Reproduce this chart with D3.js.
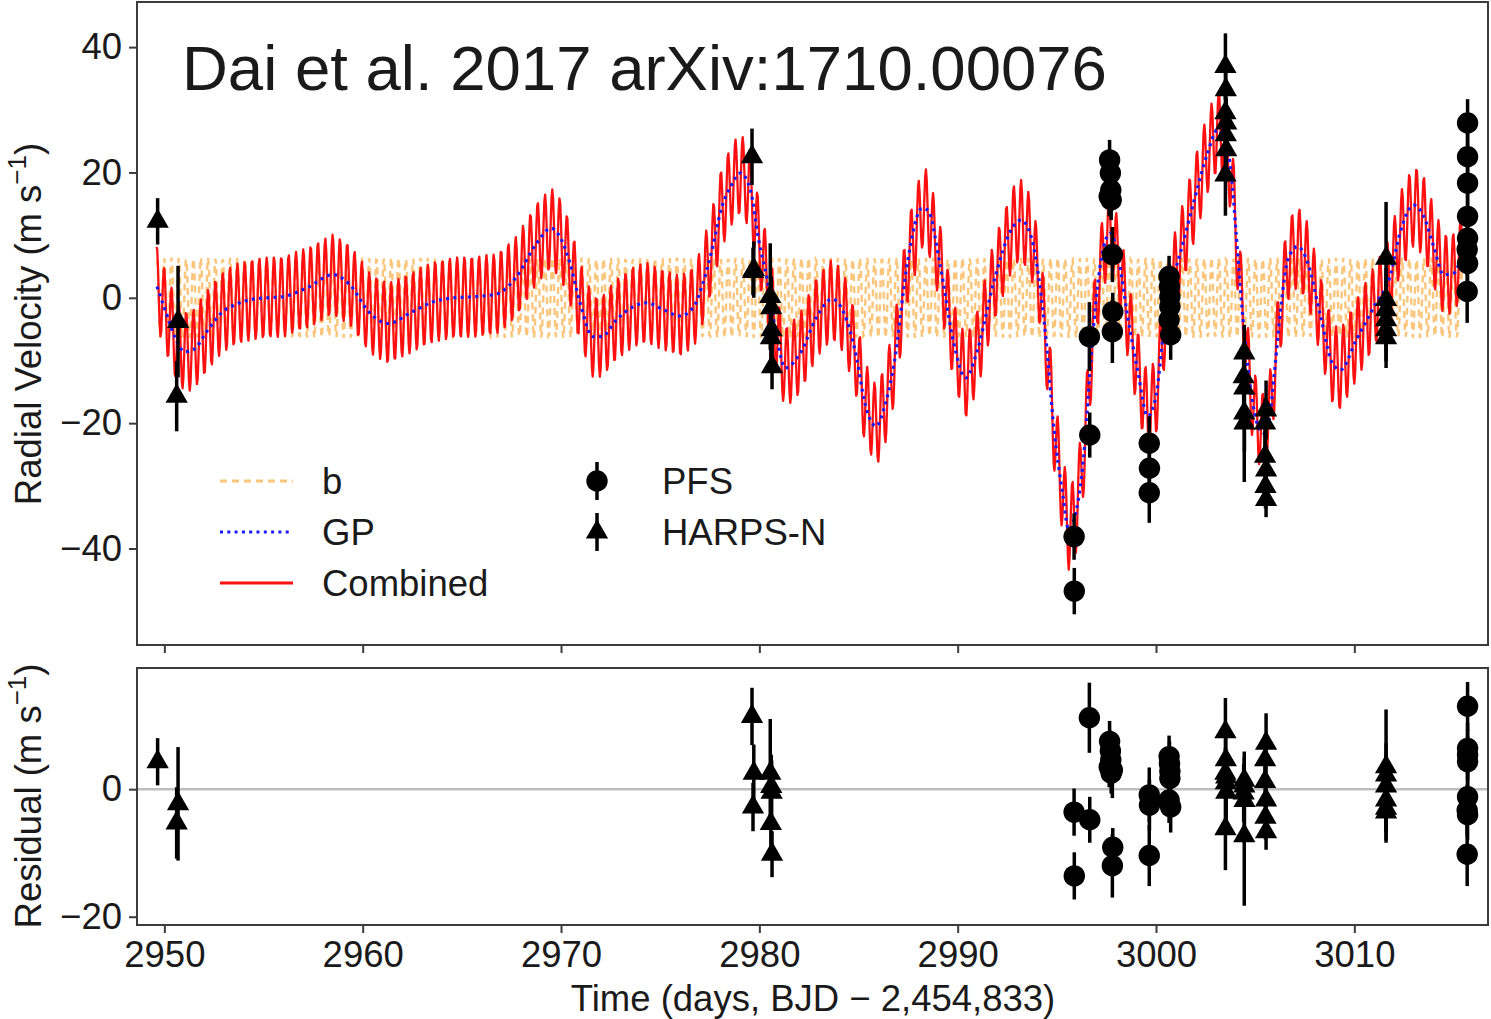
<!DOCTYPE html>
<html>
<head>
<meta charset="utf-8">
<script src="https://cdn.jsdelivr.net/npm/d3@7"></script>
<style>
  body { margin: 0; background: #fff; }
  svg { display: block; }
  text { font-family: "Liberation Sans", Arial, Helvetica, sans-serif; fill: #1a1a1a; }
</style>
</head>
<body>
<svg id="chart" width="1491" height="1019"></svg>
<script>
// ---- Gaussian-process (stellar activity) trend, knots in days / m s^-1 ----
const gpTime = [2949.63, 2950.1, 2950.52, 2951.03, 2951.45, 2952.2, 2952.88, 2953.64, 2954.5, 2955.2,
  2956.0, 2957.2, 2958.5, 2959.35, 2960.35, 2961.3, 2962.4, 2963.6, 2964.6, 2965.7,
  2966.75, 2967.76, 2968.77, 2969.5, 2970.03, 2970.45, 2970.96, 2971.6, 2972.05, 2972.8,
  2973.65, 2974.3, 2975.17, 2976.0, 2976.7, 2977.1, 2977.6, 2978.1, 2978.6, 2979.04,
  2979.55, 2979.96, 2980.4, 2980.9, 2981.3, 2982.07, 2982.9, 2983.67, 2984.26, 2984.9,
  2985.3, 2985.9, 2986.3, 2986.8, 2987.46, 2988.2, 2988.5, 2989.1, 2989.8, 2990.4,
  2991.0, 2991.8, 2992.8, 2993.2, 2993.7, 2994.1, 2994.45, 2994.86, 2995.29, 2995.6,
  2995.96, 2996.4, 2996.7, 2997.05, 2997.47, 2997.7, 2998.15, 2998.57, 2999.07, 2999.58,
  3000.0, 3000.4, 3000.9, 3001.3, 3001.93, 3002.6, 3003.1, 3003.45, 3003.79, 3004.04,
  3004.3, 3004.63, 3004.97, 3005.39, 3005.7, 3006.0, 3006.3, 3006.65, 3007.15, 3007.66,
  3008.3, 3008.9, 3009.3, 3010.1, 3011.1, 3011.8, 3012.3, 3013.0, 3013.5, 3014.0,
  3014.5, 3015.0, 3015.4];
const gpRV = [1.8, -2.5, -6.2, -8.6, -8.3, -5.1, -2.4, -1.0, -0.2, 0.0,
  0.2, 1.6, 3.7, 2.1, -2.4, -4.1, -2.4, -0.6, 0.0, 0.2,
  0.6, 3.4, 8.7, 11.1, 9.2, 5.5, -0.8, -6.2, -6.2, -3.5,
  -1.4, -0.8, -1.9, -2.9, -1.4, 1.8, 7.5, 14.4, 18.0, 19.9,
  17.2, 9.3, 2.9, -6.7, -11.2, -8.8, -3.0, -0.2, -2.4, -9.5,
  -16.5, -20.5, -17.5, -10.4, 5.5, 14.3, 14.0, 5.5, -7.2, -12.8,
  -8.3, 2.3, 11.4, 12.4, 9.8, 3.0, -6.5, -21.1, -31.2, -37.0,
  -34.3, -23.7, -10.4, 1.8, 9.3, 10.3, 5.5, -3.0, -11.5, -18.9,
  -15.7, -5.1, 3.4, 8.0, 15.6, 23.1, 26.8, 25.2, 19.9, 10.3,
  -0.3, -11.0, -18.4, -21.6, -19.5, -11.0, -1.4, 6.1, 8.2, 5.5,
  -3.0, -10.5, -11.5, -6.7, -0.8, 3.4, 10.3, 14.8, 13.0, 8.2,
  3.7, 3.9, 6.6];

// ---- Planet b: circular orbit ----
const planetPeriod = 0.3693;   // days
const planetK = 6.4;           // m s^-1
const planetTpeak = 2949.62;   // time of maximum RV
const modelSpan = [2949.6, 3015.45];
const modelStep = 0.04;

// ---- PFS radial velocities ----
const pfsTime  = [2995.87, 2995.88, 2996.64, 2996.66,
  2997.66, 2997.7, 2997.72, 2997.64, 2997.74, 2997.8, 2997.82, 2997.8,
  2999.66, 2999.67, 2999.66,
  3000.66, 3000.68, 3000.7, 3000.7, 3000.66, 3000.74,
  3015.71, 3015.71, 3015.71, 3015.71, 3015.71, 3015.69, 3015.71, 3015.69];
const pfsRV    = [-38.1, -46.8, -6.2, -21.9,
  22.0, 19.9, 17.2, 16.2, 15.6, 6.9, -2.2, -5.4,
  -23.2, -27.2, -31.1,
  3.4, 1.8, 0.2, -1.4, -3.5, -5.9,
  27.9, 22.5, 18.3, 13.0, 9.5, 7.7, 5.5, 1.0];
const pfsErr   = [3.7, 3.7, 5.5, 3.6,
  3.2, 3.2, 3.2, 3.2, 3.2, 4.4, 3.0, 5.0,
  4.3, 4.0, 4.8,
  3.3, 3.5, 3.5, 3.5, 3.6, 4.0,
  3.8, 4.0, 4.0, 4.0, 4.0, 4.0, 4.0, 5.0];
const pfsResid = [-3.6, -13.6, 11.2, -4.8,
  7.5, 6.0, 4.6, 3.5, 2.5, 3.0, -9.1, -12.0,
  -0.9, -2.5, -10.4,
  5.1, 4.0, 2.8, 1.7, -1.7, -2.8,
  13.0, 6.4, 5.4, 4.3, -1.2, -3.3, -4.0, -10.2];

// ---- HARPS-N radial velocities ----
const harpsTime  = [2949.66, 2950.69, 2950.62,
  2979.63, 2979.72, 2979.68,
  2980.55, 2980.6, 2980.62, 2980.58, 2980.64,
  3003.5, 3003.52, 3003.5, 3003.54, 3003.52, 3003.54, 3003.5,
  3004.45, 3004.42, 3004.45, 3004.45, 3004.46,
  3005.55, 3005.5, 3005.5, 3005.55, 3005.52, 3005.55,
  3011.6, 3011.6, 3011.6, 3011.6, 3011.6, 3011.6];
const harpsRV    = [12.2, -3.8, -15.7,
  22.5, 4.5, 4.2,
  0.2, -1.6, -5.1, -6.4, -11.0,
  36.9, 33.2, 29.5, 27.9, 26.0, 23.6, 19.6,
  -8.8, -12.6, -14.4, -18.4, -20.0,
  -17.9, -20.0, -25.3, -27.5, -30.1, -32.2,
  6.3, -0.3, -1.9, -3.5, -5.1, -6.4];
const harpsErr   = [3.7, 8.9, 5.6,
  4.5, 4.5, 3.8,
  8.5, 5.0, 5.0, 4.5, 3.6,
  5.3, 4.5, 4.0, 4.0, 4.0, 4.5, 6.5,
  4.5, 4.5, 4.5, 11.0, 4.5,
  4.7, 4.0, 4.0, 4.0, 3.5, 2.8,
  9.0, 5.0, 5.0, 5.0, 5.0, 4.8];
const harpsResid = [4.3, -2.3, -5.3,
  11.4, 2.5, -2.8,
  2.5, 0.4, -0.5, -5.4, -10.2,
  9.0, 4.6, 2.5, 1.9, 1.0, -0.5, -6.2,
  1.4, -0.6, 0.5, -7.3, -1.8,
  7.2, 4.6, 1.2, -1.7, -4.4, -6.7,
  3.5, 2.2, 0.5, -1.7, -3.0, -3.6];

// ---- Axis ticks and labels ----
const timeTicks = [2950, 2960, 2970, 2980, 2990, 3000, 3010];
const rvTicks = [40, 20, 0, -20, -40];
const residTicks = [0, -20];
const titleText = "Dai et al. 2017 arXiv:1710.00076";
const xLabel = "Time (days, BJD \u2212 2,454,833)";
const legendLines = ["b", "GP", "Combined"];
const legendInstruments = ["PFS", "HARPS-N"];

// ---------------------------------------------------------------
const svg = d3.select("#chart");
const frameColor = "#3c3c3c";
const fontSize = 36.5;
const left = 137, right = 1488;
const topPanel = { y0: 2, y1: 645 };
const botPanel = { y0: 668, y1: 925 };

const x = d3.scaleLinear().domain([2948.62, 3016.74]).range([left, right]);
const yRV = d3.scaleLinear().domain([-55.4, 47.2]).range([topPanel.y1, topPanel.y0]);
const yRes = d3.scaleLinear().domain([-21.3, 19.0]).range([botPanel.y1, botPanel.y0]);

const fmt = v => (v < 0 ? "\u2212" + Math.abs(v) : String(v));

// clip paths for the two panels
const defs = svg.append("defs");
defs.append("clipPath").attr("id", "clipTop").append("rect")
  .attr("x", left).attr("y", topPanel.y0).attr("width", right - left).attr("height", topPanel.y1 - topPanel.y0);
defs.append("clipPath").attr("id", "clipBot").append("rect")
  .attr("x", left).attr("y", botPanel.y0).attr("width", right - left).attr("height", botPanel.y1 - botPanel.y0);

// ---- model curves ----
const planetRV = t => planetK * Math.cos(2 * Math.PI * (t - planetTpeak) / planetPeriod);
const gpAt = d3.scaleLinear().domain(gpTime).range(gpRV);
const modelT = d3.range(modelSpan[0], modelSpan[1], modelStep);

const orangeStyle = { stroke: "#fbc67c", width: 2.4, dash: "7,5" };
const blueStyle = { stroke: "#1a1aff", width: 3.2, dash: "3,4.3" };
const redStyle = { stroke: "#ff1010", width: 2.3 };

const gTop = svg.append("g").attr("clip-path", "url(#clipTop)");

gTop.append("path")
  .datum(modelT)
  .attr("fill", "none")
  .attr("stroke", orangeStyle.stroke)
  .attr("stroke-width", orangeStyle.width)
  .attr("stroke-dasharray", orangeStyle.dash)
  .attr("d", d3.line().x(t => x(t)).y(t => yRV(planetRV(t))));

gTop.append("path")
  .datum(modelT)
  .attr("fill", "none")
  .attr("stroke", redStyle.stroke)
  .attr("stroke-width", redStyle.width)
  .attr("stroke-linejoin", "round")
  .attr("d", d3.line().x(t => x(t)).y(t => yRV(gpAt(t) + planetRV(t))));

gTop.append("path")
  .datum(gpTime.map((t, i) => [t, gpRV[i]]))
  .attr("fill", "none")
  .attr("stroke", blueStyle.stroke)
  .attr("stroke-width", blueStyle.width)
  .attr("stroke-dasharray", blueStyle.dash)
  .attr("d", d3.line().x(d => x(d[0])).y(d => yRV(d[1])).curve(d3.curveMonotoneX));

// ---- data with error bars ----
const triangle = d3.symbol().type(d3.symbolTriangle).size(215);
const circle = d3.symbol().type(d3.symbolCircle).size(360);

function drawPoints(g, times, vals, errs, yScale, sym) {
  const pts = times.map((t, i) => ({ t, v: vals[i], e: errs[i] }));
  g.selectAll(null).data(pts).enter().append("line")
    .attr("x1", d => x(d.t)).attr("x2", d => x(d.t))
    .attr("y1", d => yScale(d.v + d.e)).attr("y2", d => yScale(d.v - d.e))
    .attr("stroke", "#000").attr("stroke-width", 3.5);
  g.selectAll(null).data(pts).enter().append("path")
    .attr("d", sym)
    .attr("transform", d => `translate(${x(d.t)},${yScale(d.v)})`)
    .attr("fill", "#000");
}

drawPoints(gTop, pfsTime, pfsRV, pfsErr, yRV, circle);
drawPoints(gTop, harpsTime, harpsRV, harpsErr, yRV, triangle);

// ---- residual panel ----
const gBot = svg.append("g").attr("clip-path", "url(#clipBot)");
gBot.append("line")
  .attr("x1", left).attr("x2", right)
  .attr("y1", yRes(0)).attr("y2", yRes(0))
  .attr("stroke", "#bdbdbd").attr("stroke-width", 2.5);
drawPoints(gBot, pfsTime, pfsResid, pfsErr, yRes, circle);
drawPoints(gBot, harpsTime, harpsResid, harpsErr, yRes, triangle);

// ---- frames and axes ----
function frame(p) {
  svg.append("rect")
    .attr("x", left).attr("y", p.y0)
    .attr("width", right - left).attr("height", p.y1 - p.y0)
    .attr("fill", "none").attr("stroke", frameColor).attr("stroke-width", 2);
}
frame(topPanel);
frame(botPanel);

function styleAxis(g) {
  g.select(".domain").remove();
  g.selectAll(".tick line").attr("stroke", frameColor).attr("stroke-width", 2);
  g.selectAll(".tick text").attr("font-size", fontSize).attr("fill", "#1a1a1a")
    .attr("font-family", "'Liberation Sans', Arial, sans-serif");
}

svg.append("g").attr("transform", `translate(${left},0)`)
  .call(d3.axisLeft(yRV).tickValues(rvTicks).tickFormat(fmt).tickSize(8).tickPadding(7))
  .call(styleAxis);
svg.append("g").attr("transform", `translate(${left},0)`)
  .call(d3.axisLeft(yRes).tickValues(residTicks).tickFormat(fmt).tickSize(8).tickPadding(7))
  .call(styleAxis);
svg.append("g").attr("transform", `translate(0,${topPanel.y1})`)
  .call(d3.axisBottom(x).tickValues(timeTicks).tickFormat("").tickSize(8))
  .call(styleAxis);
const xAx = svg.append("g").attr("transform", `translate(0,${botPanel.y1})`)
  .call(d3.axisBottom(x).tickValues(timeTicks).tickFormat(d3.format("d")).tickSize(8).tickPadding(8))
  .call(styleAxis);
xAx.selectAll(".tick text").attr("dy", "0.71em");

// ---- axis titles ----
svg.append("text")
  .attr("x", 813).attr("y", 1011)
  .attr("text-anchor", "middle").attr("font-size", fontSize)
  .text(xLabel);

function yTitle(cy, main) {
  const t = svg.append("text")
    .attr("transform", `translate(41,${cy}) rotate(-90)`)
    .attr("text-anchor", "middle").attr("font-size", fontSize);
  t.append("tspan").text(main + " (m s");
  t.append("tspan").attr("font-size", 26).attr("dy", -15).text("\u22121");
  t.append("tspan").attr("dy", 15).text(")");
}
yTitle(324, "Radial Velocity");
yTitle(796, "Residual");

// ---- title ----
svg.append("text")
  .attr("x", 182).attr("y", 90)
  .attr("font-size", 63.5).attr("fill", "#000")
  .text(titleText);

// ---- legend ----
const legRowY = [481, 532, 583];
const legStyles = [orangeStyle, blueStyle, { stroke: redStyle.stroke, width: 2.6, dash: null }];
const gLeg = svg.append("g");
legendLines.forEach((name, i) => {
  gLeg.append("line")
    .attr("x1", 220).attr("x2", 293)
    .attr("y1", legRowY[i]).attr("y2", legRowY[i])
    .attr("stroke", legStyles[i].stroke).attr("stroke-width", 3)
    .attr("stroke-dasharray", legStyles[i].dash);
  gLeg.append("text")
    .attr("x", 322).attr("y", legRowY[i]).attr("dy", "0.35em")
    .attr("font-size", fontSize).text(name);
});
const legSyms = [circle, triangle];
legendInstruments.forEach((name, i) => {
  const cy = legRowY[i];
  gLeg.append("line")
    .attr("x1", 597).attr("x2", 597).attr("y1", cy - 19).attr("y2", cy + 19)
    .attr("stroke", "#000").attr("stroke-width", 3.5);
  gLeg.append("path").attr("d", legSyms[i])
    .attr("transform", `translate(597,${cy})`).attr("fill", "#000");
  gLeg.append("text")
    .attr("x", 662).attr("y", cy).attr("dy", "0.35em")
    .attr("font-size", fontSize).text(name);
});
</script>
</body>
</html>
